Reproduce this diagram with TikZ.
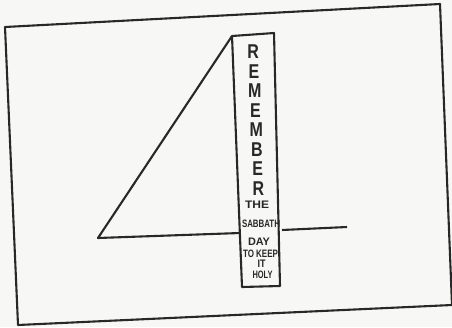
\documentclass[tikz,border=0pt]{standalone}
\usepackage{fontspec}
\usepackage{graphicx}
\newfontfamily\handfont[FakeStretch=0.8]{Liberation Sans}
\usetikzlibrary{positioning}
\definecolor{ink}{RGB}{40,40,40}
\definecolor{paper}{RGB}{247,247,245}
% hand lettered line squeezed to a given width
\newcommand{\handline}[2]{\resizebox{#1}{7.5pt}{\handfont\bfseries #2}}

\begin{document}
\begin{tikzpicture}[x=1pt, y=-1pt,
        pen/.style={draw=ink, line width=2.1pt, line join=round},
        bigch/.style={text=ink, inner sep=0pt, font=\handfont\bfseries\fontsize{20}{20}\selectfont},
        smallch/.style={text=ink, inner sep=0pt}
    ]

    % Paper
    \fill[paper] (0,0) rectangle (452,327);
    \useasboundingbox (0,0) rectangle (452,327);
    \clip (0,0) rectangle (452,327);

    % Corners
    \coordinate (frameTL) at (5,27);
    \coordinate (frameTR) at (440,4);
    \coordinate (frameBR) at (452,305);
    \coordinate (frameBL) at (18,325);
    \coordinate (colTL) at (232,36);
    \coordinate (colTR) at (274,33);
    \coordinate (colBR) at (280,286);
    \coordinate (colBL) at (242,287);
    \coordinate (foot) at (98,238);
    \coordinate (barL) at (240,233);
    \coordinate (barR) at (282,230);
    \coordinate (barEnd) at (347,227);

    % Frame
    \draw[pen] (frameTL) -- (frameTR) -- (frameBR) -- (frameBL) -- cycle;

    % The four
    \draw[pen] (colTL) -- (foot) -- (barL);
    \draw[pen] (barR) -- (barEnd);
    \draw[pen] (colTL) -- (colTR) -- (colBR) -- (colBL) -- cycle;

    % Lettering
    \foreach \ch [count=\i] in {R,E,M,E,M,B,E,R}
        \node[bigch] (rem\i) at ({252.5+0.75*\i}, {32.5+19.5*\i}) {\ch};
    \node[smallch] (the) at (257,205) {\handline{24pt}{THE}};
    \node[smallch] (sabbath) at (261,224) {\handline{38pt}{SABBATH}};
    \node[smallch] (day) at (259,242) {\handline{22pt}{DAY}};
    \node[smallch] (tokeep) at (260.5,254) {\handline{35pt}{TO KEEP}};
    \node[smallch] (it) at (261.5,264) {\handline{8pt}{IT}};
    \node[smallch] (holy) at (262.5,274.5) {\handline{20pt}{HOLY}};

\end{tikzpicture}
\end{document}
